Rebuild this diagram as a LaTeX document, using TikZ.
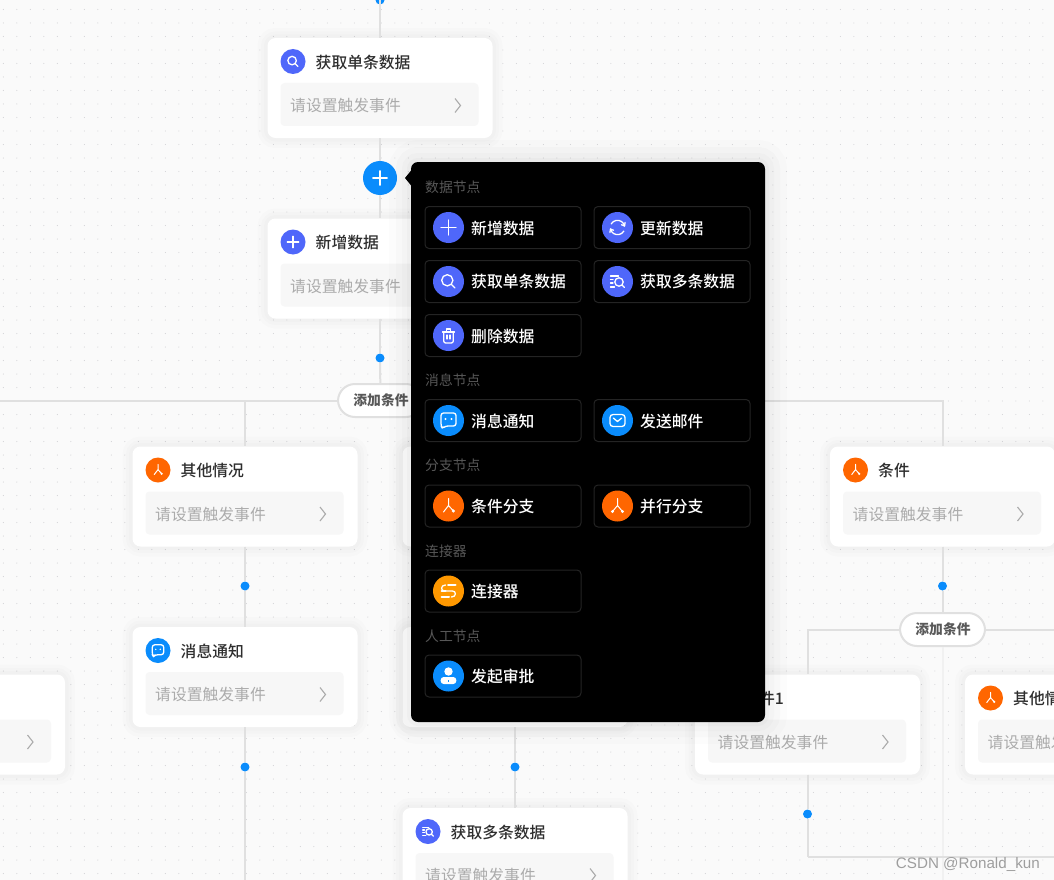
\documentclass[tikz,border=0pt]{standalone}
\usepackage{fontspec}
\setmainfont{Noto Sans CJK SC}
\newfontfamily\medfont{Noto Sans CJK SC Medium}
\newfontfamily\markfont{Liberation Sans}
\definecolor{canvasbg}{HTML}{FAFAFA}
\definecolor{griddot}{HTML}{D0D0D4}
\definecolor{wirecol}{HTML}{E0E0E0}
\definecolor{fieldcol}{HTML}{F7F7F7}
\definecolor{violetcol}{HTML}{4F67FA}
\definecolor{bluecol}{HTML}{0A8CFC}
\definecolor{orangecol}{HTML}{FF6600}
\definecolor{ambercol}{HTML}{FF9800}
\tikzset{
  softcard/.style = {
    preaction={draw=black, draw opacity=.010, line width=20pt},
    preaction={draw=black, draw opacity=.010, line width=13pt},
    preaction={draw=black, draw opacity=.012, line width=7pt}},
  softmenu/.style = {
    preaction={draw=black, draw opacity=.012, line width=44pt},
    preaction={draw=black, draw opacity=.014, line width=30pt},
    preaction={draw=black, draw opacity=.016, line width=18pt},
    preaction={draw=black, draw opacity=.02, line width=8pt}},
  card/.style = {softcard, fill=white, rounded corners=8pt, minimum width=225pt, minimum height=100pt, inner sep=0pt},
  field/.style = {fill=fieldcol, rounded corners=4pt, minimum width=198pt, minimum height=43pt, inner sep=0pt},
  title/.style = {anchor=west, inner sep=0pt, text=black!82, font=\medfont\fontsize{15.8}{16}\selectfont},
  hint/.style = {anchor=west, inner sep=0pt, text=black!33, font=\fontsize{15.8}{16}\selectfont},
  chev/.style = {draw=black!33, line width=1.1pt, line join=miter},
  wire/.style = {draw=wirecol, line width=2pt},
  faint/.style = {draw=wirecol!45, line width=2pt},
  junct/.style = {circle, fill=bluecol, minimum size=9pt, inner sep=0pt},
  pill/.style = {draw=wirecol, line width=2pt, fill=white, rounded corners=17pt, minimum width=85pt, minimum height=33pt, inner sep=0pt, text=black!65, font=\fontsize{13.8}{14}\selectfont\bfseries},
  round/.style = {circle, minimum size=#1, inner sep=0pt},
  icn/.style = {draw=white, line width=1.3pt, line cap=round, line join=round},
  menu/.style = {softmenu, fill=black, rounded corners=7pt, minimum width=354pt, minimum height=560pt, inner sep=0pt},
  btn/.style = {draw=white!14!black, line width=1pt, rounded corners=4pt, minimum width=156pt, minimum height=42pt, inner sep=0pt},
  btnlabel/.style = {anchor=west, inner sep=0pt, text=white, font=\medfont\fontsize{15.8}{16}\selectfont},
  section/.style = {anchor=west, inner sep=0pt, text=white!34!black, font=\fontsize{13.8}{14}\selectfont},
  icnplus/.pic = {\draw[icn] (-7.5,0) -- (7.5,0) (0,-7.5) -- (0,7.5);},
  icnsync/.pic = {\draw[icn] (7,-1.5) arc (-12:-150:7.2) (-7,1.5) arc (168:30:7.2);
    \draw[icn] (7.6,-5) -- (7,-1.5) -- (4,-2.8) (-7.6,5) -- (-7,1.5) -- (-4,2.8);},
  icnfind/.pic = {\draw[icn] (-1.2,-1.2) circle (5.6) (3,3) -- (6.5,6.5);},
  icnmany/.pic = {\draw[icn] (-7,-5.5) -- (1,-5.5) (-7,-2) -- (-4.5,-2) (-7,1.5) -- (-4.5,1.5) (-7,5.5) -- (-3,5.5);
    \draw[icn] (1.5,0.5) circle (4.2) (4.6,3.6) -- (7,6);},
  icntrash/.pic = {\draw[icn, rounded corners=2pt] (-4.8,-3.5) -- (-4.8,7.5) -- (4.8,7.5) -- (4.8,-3.5);
    \draw[icn] (-6,-3.5) -- (6,-3.5) (-2.2,-3.5) -- (-2.2,-6.5) -- (2.2,-6.5) -- (2.2,-3.5) (-1.6,-.5) -- (-1.6,3.5) (1.6,-.5) -- (1.6,3.5);},
  icnmsg/.pic = {\draw[icn, rounded corners=2.5pt] (-7.5,-7.5) -- (7.5,-7.5) -- (7.5,5.5) -- (-3,5.5) -- (-6,8) -- (-7.5,5.5) -- cycle;
    \fill[white] (-3,-1.5) circle (1.1) (3,-1.5) circle (1.1);},
  icnmail/.pic = {\draw[icn, rounded corners=3pt] (-7.5,-6) rectangle (7.5,6);
    \draw[icn] (-4.2,-2.5) -- (0,1) -- (4.2,-2.5);},
  icncond/.pic = {\draw[icn, line width=1pt] (0,-7.5) -- (0,-.5) -- (-5,6) (0,-.5) -- (4.5,4.5);
    \fill[white] (4.8,5) circle (1.7);},
  icnpara/.pic = {\draw[icn, line width=1pt] (0,-7.5) -- (0,-.5) -- (-5,5.5) (0,-.5) -- (5,5.5);
    \fill[white] (-5,5.5) circle (1.7) (5,5.5) circle (1.7);},
  icnlink/.pic = {\draw[icn, line width=2pt] (-.5,-6) -- (7,-6) (-7,0) -- (-3,0) (-7,6) -- (.5,6);
    \draw[icn] (-3,-6) .. controls (-8,-6) and (-8,0) .. (-4,0) -- (4,0) .. controls (8,0) and (8,6) .. (3,6);},
  icnuser/.pic = {\fill[white] (0,-4.5) circle (4.2);
    \fill[white, rounded corners=3pt] (-7.8,1) rectangle (7.8,8);
    \fill[bluecol] (-.8,3.5) rectangle (.8,6);},
}
\newcommand{\flowcard}[6]{
  \node[card] (#1) at (#2,#3) {};
  \node[field] (#1f) at (#2-.5,#3+16.5) {};
  \node[round=25pt, fill=#4] (#1i) at (#2-87,#3-26.5) {};
  \pic[scale=.76] at (#1i) {#5};
  \node[title] (#1t) at (#2-64.5,#3-25.8) {#6};
  \node[hint] (#1h) at (#2-90,#3+17.5) {请设置触发事件};
  \draw[chev] (#2+75,#3+10.5) -- (#2+80.5,#3+17.5) -- (#2+75,#3+24.5);
}
\newcommand{\menubtn}[6]{
  \node[btn] (#1) at (#2,#3) {};
  \node[round=31pt, fill=#4] (#1i) at (#2-54.5,#3) {};
  \pic at (#1i) {#5};
  \node[btnlabel] (#1t) at (#2-32,#3+.5) {#6};
}
\begin{document}
\begin{tikzpicture}[x=1pt, y=-1pt]
  \useasboundingbox (0,0) rectangle (1054,880);
  \clip (0,0) rectangle (1054,880);
  \fill[canvasbg] (0,0) rectangle (1054,880);
  \foreach \i in {0,...,78}
    \foreach \j in {0,...,65}
      \fill[griddot] (3.3+13.5*\i,9.5+13.5*\j) circle (.55);

  \node[junct] (topdot) at (380,0) {};
  \flowcard{getone}{380}{88}{violetcol}{icnfind}{获取单条数据}
  \node[round=34pt, fill=bluecol] (addbtn) at (380,178) {};
  \pic[scale=.95, line width=2pt] at (addbtn) {icnplus};
  \flowcard{addone}{380}{268.5}{violetcol}{icnplus}{新增数据}
  \node[junct] (adddot) at (380,358) {};
  \node[pill] (addcond) at (380.5,400.5) {\hspace*{1pt}添加条件};
  \flowcard{other}{245}{496.5}{orangecol}{icncond}{其他情况}
  \node[junct] (otherdot) at (245,586) {};
  \flowcard{notice}{245}{677}{bluecol}{icnmsg}{消息通知}
  \node[junct] (noticedot) at (245,767) {};
  \node[card] (leftone) at (-47.5,724.5) {};
  \node[field] (leftonef) at (-48,741) {};
  \draw[chev] (27.5,735) -- (33,742) -- (27.5,749);
  \node[card] (midone) at (515,496.5) {};
  \node[card] (midtwo) at (515,677) {};
  \node[junct] (middot) at (515,767) {};
  \flowcard{getmany}{515}{858}{violetcol}{icnmany}{获取多条数据}
  \flowcard{cond}{942.5}{496.5}{orangecol}{icncond}{条件}
  \node[junct] (conddot) at (942.5,586) {};
  \node[pill] (addsub) at (942.5,629.5) {\hspace*{1pt}添加条件};
  \flowcard{condone}{807.5}{724.5}{orangecol}{icncond}{条件1}
  \flowcard{otherone}{1077.5}{724.5}{orangecol}{icncond}{其他情况}
  \node[junct] (condonedot) at (807.5,814) {};
  \coordinate (top) at (380,-6);
  \coordinate (trunkleft) at (-6,400.5);
  \coordinate (bottomleft) at (245,890);
  \coordinate (bottomright) at (942.5,890);
  \coordinate (mergeleft) at (807.5,857);
  \coordinate (mergeright) at (1062,857);

  \draw[wire] (top) -- (getone);
  \draw[wire] (getone) -- (addbtn);
  \draw[wire] (addbtn) -- (addone);
  \draw[wire] (addone) -- (adddot);
  \draw[wire] (adddot) -- (addcond);
  \draw[wire] (addcond) -- (trunkleft);
  \draw[wire] (addcond) -| (other);
  \draw[wire] (addcond) -| (midone);
  \draw[wire] (addcond) -| (cond);
  \draw[wire] (other) -- (otherdot);
  \draw[wire] (otherdot) -- (notice);
  \draw[wire] (notice) -- (noticedot);
  \draw[wire] (noticedot) -- (bottomleft);
  \draw[wire] (midone) -- (midtwo);
  \draw[wire] (midtwo) -- (middot);
  \draw[wire] (middot) -- (getmany);
  \draw[wire] (cond) -- (conddot);
  \draw[wire] (conddot) -- (addsub);
  \draw[wire] (addsub) -| (condone);
  \draw[wire] (addsub) -| (otherone);
  \draw[faint] (addsub) -- (bottomright);
  \draw[wire] (condone) -- (condonedot);
  \draw[wire] (condonedot) -- (mergeleft);
  \draw[wire] (mergeleft) -- (mergeright);

  \node[menu] (menu) at (588,442) {};
  \fill[black] (405,178) -- (411.5,170) -- (411.5,186) -- cycle;
  \node[section] (secdata) at (425,187) {数据节点};
  \menubtn{newdata}{503}{227.5}{violetcol}{icnplus}{新增数据}
  \menubtn{syncdata}{672}{227.5}{violetcol}{icnsync}{更新数据}
  \menubtn{onedata}{503}{281.5}{violetcol}{icnfind}{获取单条数据}
  \menubtn{manydata}{672}{281.5}{violetcol}{icnmany}{获取多条数据}
  \menubtn{deldata}{503}{335.5}{violetcol}{icntrash}{删除数据}
  \node[section] (secmsg) at (425,380) {消息节点};
  \menubtn{msgitem}{503}{420.5}{bluecol}{icnmsg}{消息通知}
  \menubtn{mailitem}{672}{420.5}{bluecol}{icnmail}{发送邮件}
  \node[section] (secfork) at (425,465) {分支节点};
  \menubtn{conditem}{503}{506}{orangecol}{icncond}{条件分支}
  \menubtn{paraitem}{672}{506}{orangecol}{icnpara}{并行分支}
  \node[section] (seclink) at (425,551) {连接器};
  \menubtn{linkitem}{503}{591}{ambercol}{icnlink}{连接器}
  \node[section] (sechuman) at (425,636) {人工节点};
  \menubtn{approve}{503}{676}{bluecol}{icnuser}{发起审批}

  \node[anchor=east, inner sep=0pt, text=black!38, font=\markfont\fontsize{15.2}{15.2}\selectfont] (mark) at (1040,864) {CSDN @Ronald\_kun};
\end{tikzpicture}
\end{document}
